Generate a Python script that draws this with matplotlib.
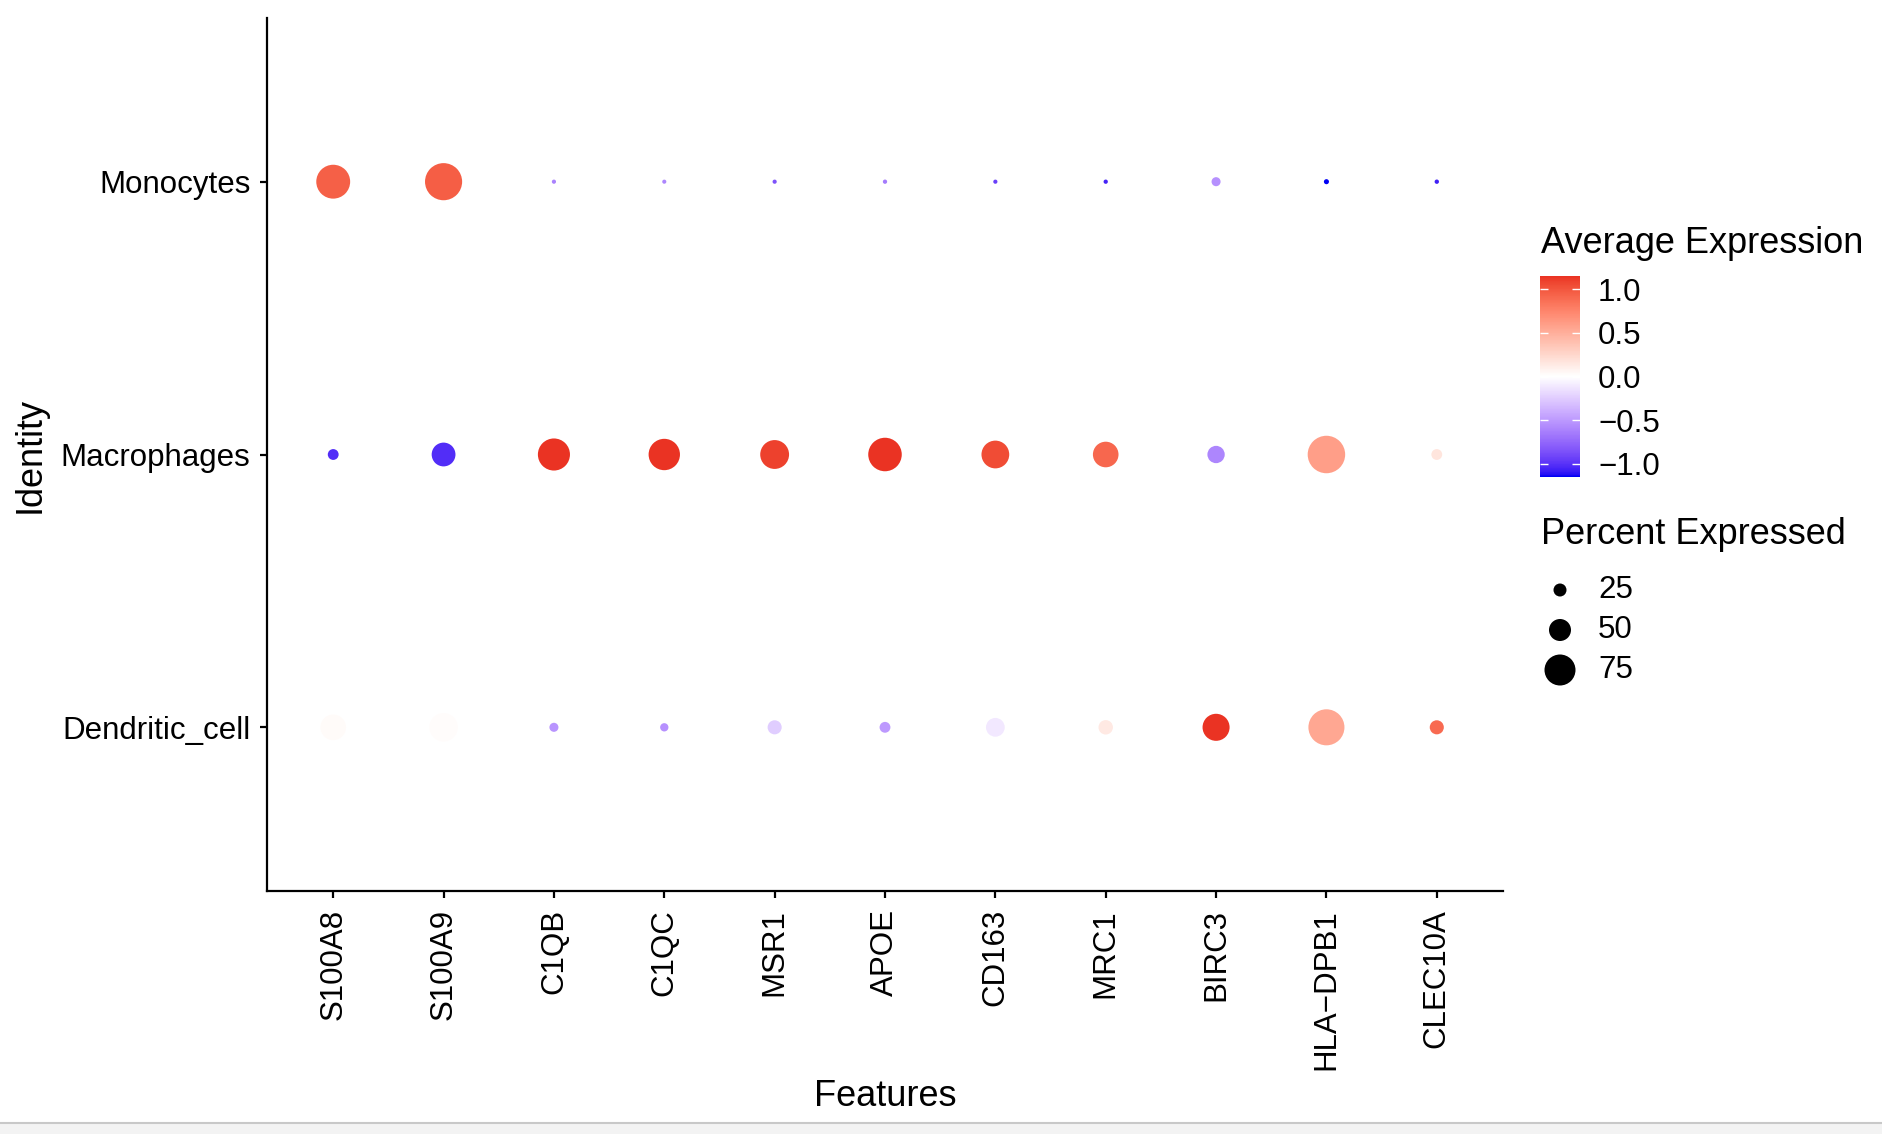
import numpy as np
import matplotlib
matplotlib.use('Agg')
import matplotlib.pyplot as plt
import matplotlib.colors as mcolors
from matplotlib.cm import ScalarMappable
from matplotlib.patches import Rectangle
from matplotlib.lines import Line2D

plt.rcParams['font.family'] = ['Liberation Sans', 'DejaVu Sans']

# data
genes = ['S100A8', 'S100A9', 'C1QB', 'C1QC', 'MSR1', 'APOE', 'CD163', 'MRC1', 'BIRC3', 'HLA-DPB1', 'CLEC10A']
idents = ['Monocytes', 'Macrophages', 'Dendritic_cell']

# scaled average expression
avg_mono = [0.95, 0.96, -0.62, -0.60, -0.85, -0.65, -0.94, -1.06, -0.55, -1.15, -1.07]
avg_mac = [-1.02, -1.02, 1.15, 1.15, 1.10, 1.15, 1.05, 0.92, -0.60, 0.60, 0.17]
avg_dc = [0.03, 0.02, -0.53, -0.55, -0.25, -0.50, -0.11, 0.14, 1.15, 0.55, 0.90]

# percent expressed
pct_mono = [83, 92, 0.5, 0.3, 0.5, 0.8, 0.5, 0.8, 14, 3, 1]
pct_mac = [19, 55, 78, 76, 69, 82, 66, 60, 37, 93, 19]
pct_dc = [60, 68, 14, 12, 28, 19, 41, 29, 64, 89, 28]

legend_pct = [25, 50, 75]
cbar_ticks = [-1.0, -0.5, 0.0, 0.5, 1.0]

W, H, DPI = 1882, 1134, 100


def lab(h):
    rgb = np.array(mcolors.to_rgb(h))
    lin = np.where(rgb <= 0.04045, rgb / 12.92, ((rgb + 0.055) / 1.055) ** 2.4)
    M = np.array([[0.4124, 0.3576, 0.1805], [0.2126, 0.7152, 0.0722], [0.0193, 0.1192, 0.9505]])
    xyz = M @ lin / np.array([0.95047, 1.0, 1.08883])
    f = np.where(xyz > 0.008856, np.cbrt(xyz), 7.787 * xyz + 16 / 116)
    return np.array([116 * f[1] - 16, 500 * (f[0] - f[1]), 200 * (f[1] - f[2])])


def lab2rgb(L):
    fy = (L[0] + 16) / 116
    f = np.array([fy + L[1] / 500, fy, fy - L[2] / 200])
    xyz = np.where(f > 0.2069, f ** 3, (f - 16 / 116) / 7.787) * np.array([0.95047, 1.0, 1.08883])
    M = np.array([[0.4124, 0.3576, 0.1805], [0.2126, 0.7152, 0.0722], [0.0193, 0.1192, 0.9505]])
    lin = np.linalg.solve(M, xyz)
    lin = np.clip(lin, 0, 1)
    rgb = np.where(lin <= 0.0031308, 12.92 * lin, 1.055 * lin ** (1 / 2.4) - 0.055)
    return np.clip(rgb, 0, 1)


# blue - white - red gradient interpolated in Lab like ggplot
lo, mid, hi = lab('#0000F5'), lab('#FFFFFF'), lab('#EA3323')
cols = [lab2rgb(lo + (mid - lo) * t) for t in np.linspace(0, 1, 128)]
cols += [lab2rgb(mid + (hi - mid) * t) for t in np.linspace(0, 1, 128)]
cmap = mcolors.ListedColormap(cols)
norm = mcolors.Normalize(vmin=-1.155, vmax=1.155)


def dot_size(p):
    d = (4 + 0.36 * np.asarray(p, dtype=float)) * 72 / DPI
    return d ** 2


fig = plt.figure(figsize=(W / DPI, H / DPI), dpi=DPI)
ax = fig.add_axes([267 / W, 1 - 891 / H, 1236 / W, 873 / H])

avg = np.array([avg_mono, avg_mac, avg_dc])
pct = np.array([pct_mono, pct_mac, pct_dc])
xx, yy = np.meshgrid(np.arange(len(genes)), np.arange(len(idents)))
ax.scatter(xx.ravel(), yy.ravel(), s=dot_size(pct.ravel()), c=avg.ravel(),
           cmap=cmap, norm=norm, linewidths=0)

ax.set_xlim(-0.6, len(genes) - 0.4)
ax.set_ylim(len(idents) - 0.4, -0.6)
ax.set_xticks(range(len(genes)))
ax.set_xticklabels([g.replace('-', '\u2212') for g in genes], rotation=90, fontsize=22.5)
ax.set_yticks(range(len(idents)))
ax.set_yticklabels(idents, fontsize=22.5)
ax.tick_params(length=5, width=1.6, color='black')
ax.tick_params(axis='x', pad=8)
ax.tick_params(axis='y', pad=7)
for s in ['top', 'right']:
    ax.spines[s].set_visible(False)
for s in ['left', 'bottom']:
    ax.spines[s].set_linewidth(1.6)

ax.set_xlabel('Features', fontsize=26)
ax.xaxis.label.set_va('center')
ax.xaxis.set_label_coords(0.5, -(1096 - 891) / 873)
ax.set_ylabel('Identity', fontsize=26)
ax.yaxis.label.set_va('center')
ax.yaxis.set_label_coords((30 - 267) / 1236, 0.5)

# colour legend
cax = fig.add_axes([1540 / W, 1 - 477 / H, 40 / W, 201 / H])
cb = fig.colorbar(ScalarMappable(norm=norm, cmap=cmap), cax=cax)
cb.outline.set_visible(False)
cb.set_ticks(cbar_ticks)
cb.set_ticklabels([('%.1f' % t).replace('-', '\u2212') for t in cbar_ticks])
cax.tick_params(length=0, pad=13, labelsize=22.5)
cax.hlines(cbar_ticks, 0, 0.2, colors='white', lw=1)
cax.hlines(cbar_ticks, 0.8, 1, colors='white', lw=1)
fig.text(1541 / W, 1 - 253 / H, 'Average Expression', fontsize=26, va='baseline')

# size legend
fig.text(1541 / W, 1 - 544 / H, 'Percent Expressed', fontsize=26, va='baseline')
lax = fig.add_axes([1530 / W, 1 - 690 / H, 170 / W, 120 / H])
lax.set_xlim(0, 1)
lax.set_ylim(len(legend_pct) - 0.5, -0.5)
lax.scatter([30 / 170] * len(legend_pct), range(len(legend_pct)), s=dot_size(legend_pct),
            color='black', linewidths=0)
for i, p in enumerate(legend_pct):
    lax.text(68 / 170, i, str(p), fontsize=22.5, va='center')
lax.axis('off')

# grey strip at the bottom of the screenshot
fig.add_artist(Rectangle((0, 0), 1, 11 / H, transform=fig.transFigure, color='#F3F3F3', zorder=-1))
fig.add_artist(Line2D([0, 1], [11 / H, 11 / H], transform=fig.transFigure, color='#C8C8C8', lw=1.5))

fig.savefig('out.png', dpi=DPI, facecolor='white')
